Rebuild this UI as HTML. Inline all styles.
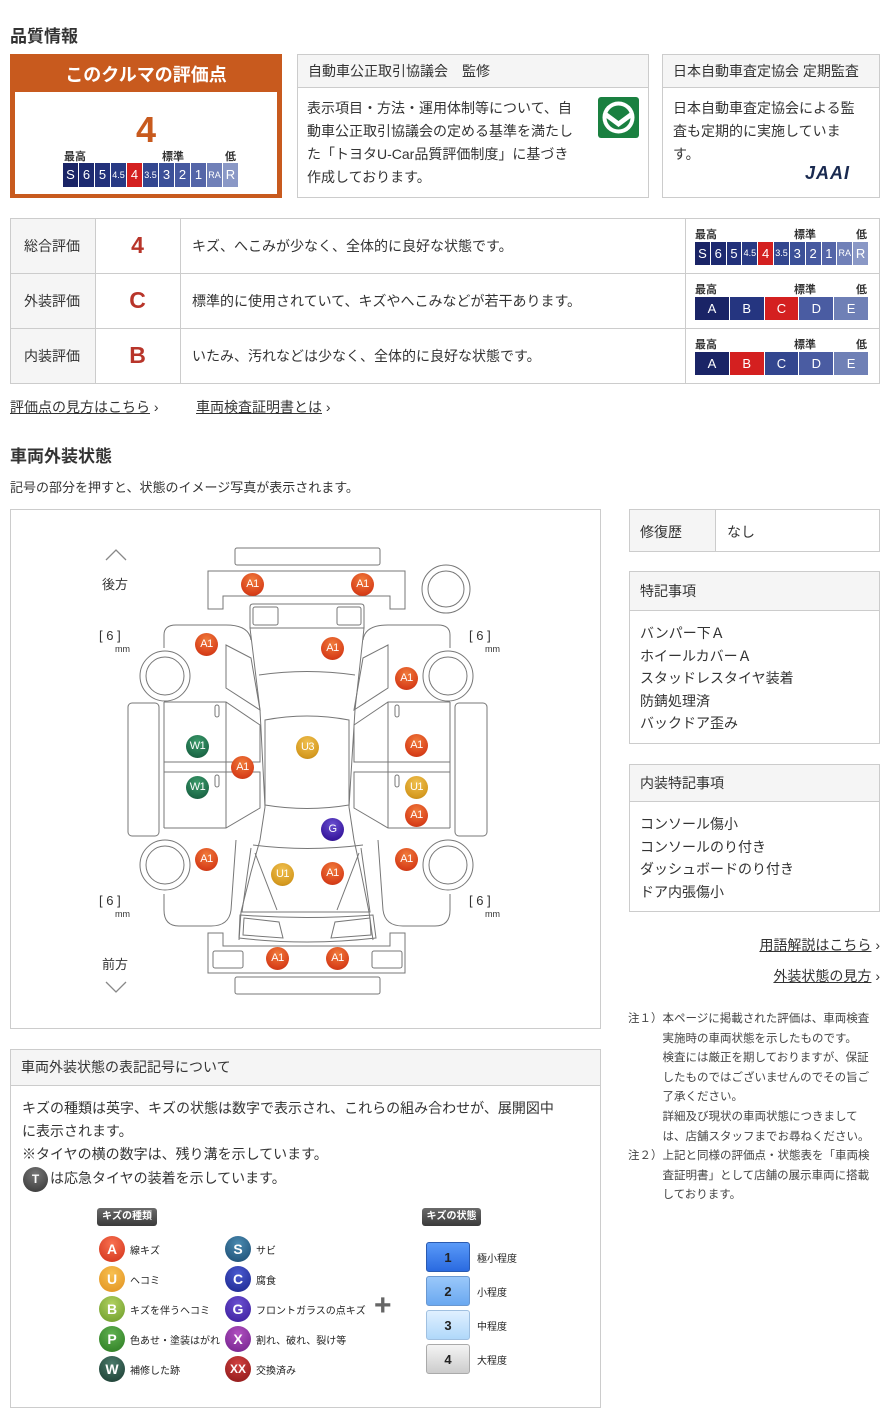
<!DOCTYPE html>
<html><head><meta charset="utf-8">
<style>
*{margin:0;padding:0;box-sizing:border-box}
body{width:890px;height:1425px;background:#fff;font-family:"Liberation Sans","Noto Sans CJK JP",sans-serif;color:#333;position:relative;overflow:hidden}
.a{position:absolute;white-space:nowrap}
.bx{position:absolute;border:1px solid #ccc;background:#fff}
.hd{position:absolute;left:0;right:0;top:0;background:#f5f5f5;border-bottom:1px solid #ccc;font-size:14px;padding-left:10px}
.bar{position:absolute;display:flex;gap:1px}
.bar div{color:#fff;font-size:13px;text-align:center;flex:1}
.lab{position:absolute;font-size:11px;font-weight:bold;color:#333}
.mk{position:absolute;width:23px;height:23px;border-radius:50%;color:#fff;font-size:11px;line-height:23px;text-align:center;margin:-11px 0 0 -11px;letter-spacing:-0.5px}
.A{background:radial-gradient(circle at 50% 30%,#f07a3a,#d8401a 70%,#b83010)}
.W{background:radial-gradient(circle at 50% 30%,#3a9a6a,#1d6a48 70%,#124a32)}
.U{background:radial-gradient(circle at 50% 30%,#f0c050,#d59a20 70%,#b07a10)}
.G{background:radial-gradient(circle at 50% 30%,#6a50d0,#3a1aa0 70%,#28107a)}
.lg{position:absolute;width:26px;height:26px;border-radius:50%;color:#fff;font-weight:bold;font-size:14px;line-height:26px;text-align:center;margin:-13px 0 0 -13px}
.lt{position:absolute;font-size:10px;color:#222;margin-top:-7px}
.sb{position:absolute;left:426px;width:44px;height:30px;border-radius:3px;font-size:13px;font-weight:bold;color:#222;text-align:center;line-height:30px;border:1px solid #999}
u{text-decoration:underline}
</style></head><body>

<div class="a" style="left:10px;top:22px;font-size:17px;font-weight:bold;color:#333">品質情報</div>

<div class="a" style="left:10px;top:54px;width:272px;height:144px;background:#c85a1e"></div>
<div class="a" style="left:10px;top:61px;width:272px;text-align:center;color:#fff;font-size:18px;font-weight:bold">このクルマの評価点</div>
<div class="a" style="left:15px;top:92px;width:262px;height:102px;background:#fff"></div>
<div class="a" style="left:15px;top:110px;width:262px;text-align:center;color:#c85a1e;font-size:36px;font-weight:bold;line-height:40px">4</div>
<div class="lab" style="left:64px;top:148px">最高</div>
<div class="lab" style="left:162px;top:148px">標準</div>
<div class="lab" style="left:225px;top:148px">低</div>
<div class="bar" style="left:63px;top:163px;width:175px;height:24px;line-height:24px">
<div style="background:#1a2466">S</div><div style="background:#1d2a70">6</div><div style="background:#22317a">5</div><div style="background:#283a84;font-size:9px">4.5</div><div style="background:#d42020">4</div><div style="background:#33468f;font-size:9px">3.5</div><div style="background:#3b5098">3</div><div style="background:#4659a0">2</div><div style="background:#5465a8">1</div><div style="background:#7080b8;font-size:9px">RA</div><div style="background:#8a98c6">R</div>
</div>

<div class="bx" style="left:297px;top:54px;width:352px;height:144px">
<div class="hd" style="height:33px;line-height:32px">自動車公正取引協議会　監修</div>
<div class="a" style="left:9px;top:42px;font-size:14px;line-height:23px">表示項目・方法・運用体制等について、自<br>動車公正取引協議会の定める基準を満たし<br>た「トヨタU-Car品質評価制度」に基づき<br>作成しております。</div>
<div class="a" style="left:300px;top:42px;width:41px;height:41px;background:#1a8040;border-radius:3px">
<svg width="41" height="41"><circle cx="20.5" cy="20.5" r="16" fill="#fff"/><circle cx="20.5" cy="20.5" r="12" fill="#1a8040"/><path d="M7 14 L20.5 24 L34 14 L34 20 L20.5 30 L7 20Z" fill="#fff"/></svg></div>
</div>

<div class="bx" style="left:662px;top:54px;width:218px;height:144px">
<div class="hd" style="height:33px;line-height:32px">日本自動車査定協会 定期監査</div>
<div class="a" style="left:10px;top:42px;font-size:14px;line-height:23px">日本自動車査定協会による監<br>査も定期的に実施していま<br>す。</div>
<div class="a" style="left:142px;top:108px;font-size:18px;font-weight:bold;font-style:italic;color:#1a2a50;letter-spacing:1px">JAAI</div>
</div>

<div class="bx" style="left:10px;top:218px;width:870px;height:166px"></div>
<div class="a" style="left:11px;top:219px;width:84px;height:164px;background:#f5f5f5"></div>
<div class="a" style="left:10px;top:273px;width:870px;height:1px;background:#ccc"></div>
<div class="a" style="left:10px;top:328px;width:870px;height:1px;background:#ccc"></div>
<div class="a" style="left:95px;top:218px;width:1px;height:166px;background:#ccc"></div>
<div class="a" style="left:180px;top:218px;width:1px;height:166px;background:#ccc"></div>
<div class="a" style="left:685px;top:218px;width:1px;height:166px;background:#ccc"></div>
<div class="a" style="left:24px;top:236px;font-size:14px">総合評価</div>
<div class="a" style="left:24px;top:291px;font-size:14px">外装評価</div>
<div class="a" style="left:24px;top:346px;font-size:14px">内装評価</div>
<div class="a" style="left:95px;top:232px;width:85px;text-align:center;font-size:23px;font-weight:bold;color:#b8352a">4</div>
<div class="a" style="left:95px;top:287px;width:85px;text-align:center;font-size:23px;font-weight:bold;color:#b8352a">C</div>
<div class="a" style="left:95px;top:342px;width:85px;text-align:center;font-size:23px;font-weight:bold;color:#b8352a">B</div>
<div class="a" style="left:192px;top:236px;font-size:14px">キズ、へこみが少なく、全体的に良好な状態です。</div>
<div class="a" style="left:192px;top:291px;font-size:14px">標準的に使用されていて、キズやへこみなどが若干あります。</div>
<div class="a" style="left:192px;top:346px;font-size:14px">いたみ、汚れなどは少なく、全体的に良好な状態です。</div>

<div class="lab" style="left:695px;top:226px">最高</div><div class="lab" style="left:794px;top:226px">標準</div><div class="lab" style="left:856px;top:226px">低</div>
<div class="bar" style="left:695px;top:242px;width:173px;height:23px;line-height:23px">
<div style="background:#1a2466">S</div><div style="background:#1d2a70">6</div><div style="background:#22317a">5</div><div style="background:#283a84;font-size:9px">4.5</div><div style="background:#d42020">4</div><div style="background:#33468f;font-size:9px">3.5</div><div style="background:#3b5098">3</div><div style="background:#4659a0">2</div><div style="background:#5465a8">1</div><div style="background:#7080b8;font-size:9px">RA</div><div style="background:#8a98c6">R</div>
</div>
<div class="lab" style="left:695px;top:281px">最高</div><div class="lab" style="left:794px;top:281px">標準</div><div class="lab" style="left:856px;top:281px">低</div>
<div class="bar" style="left:695px;top:297px;width:173px;height:23px;line-height:23px">
<div style="background:#1a2466">A</div><div style="background:#253580">B</div><div style="background:#d42020">C</div><div style="background:#4a5ca2">D</div><div style="background:#6f80b6">E</div>
</div>
<div class="lab" style="left:695px;top:336px">最高</div><div class="lab" style="left:794px;top:336px">標準</div><div class="lab" style="left:856px;top:336px">低</div>
<div class="bar" style="left:695px;top:352px;width:173px;height:23px;line-height:23px">
<div style="background:#1a2466">A</div><div style="background:#d42020">B</div><div style="background:#33468f">C</div><div style="background:#4a5ca2">D</div><div style="background:#6f80b6">E</div>
</div>

<div class="a" style="left:10px;top:397px;font-size:14px"><u>評価点の見方はこちら</u> ›</div>
<div class="a" style="left:196px;top:397px;font-size:14px"><u>車両検査証明書とは</u> ›</div>

<div class="a" style="left:10px;top:442px;font-size:17px;font-weight:bold">車両外装状態</div>
<div class="a" style="left:10px;top:477px;font-size:13px">記号の部分を押すと、状態のイメージ写真が表示されます。</div>

<div class="bx" style="left:10px;top:509px;width:591px;height:520px">
<svg class="a" style="left:0;top:0" width="590" height="520" fill="none" stroke="#777" stroke-width="1">
<rect x="224" y="38" width="145" height="17" rx="2"/>
<path d="M197 61 H394 V99 H379 V86 H212 V99 H197Z"/>
<circle cx="435" cy="79" r="24"/><circle cx="435" cy="79" r="18"/>
<path d="M239 118 V97 Q239 94 242 94 H350 Q353 94 353 97 V118"/>
<rect x="242" y="97" width="25" height="18" rx="2"/><rect x="326" y="97" width="24" height="18" rx="2"/>
<path d="M239 118 H353"/>
<path d="M239 118 L249 200 L254 297 L249 330 L240 362 L230 402 L228 430"/>
<path d="M353 118 L344 200 L338 297 L343 330 L350 362 L358 402 L362 430"/>
<path d="M248 165 Q296 158 344 165"/>
<path d="M254 210 Q296 202 338 210 V295 Q296 302 254 295Z"/>
<path d="M242 335 Q296 342 352 335"/>
<path d="M240 338 L231 402 H359 L350 338"/>
<path d="M244 343 L266 400 M348 343 L326 400"/>
<path d="M229 405 Q296 410 362 405 L365 428 Q296 436 228 428Z"/>
<path d="M233 408 L268 412 L272 428 L232 425Z M359 408 L324 412 L320 428 L360 425Z"/>
<path d="M197 423 H212 V436 H379 V423 H394 V463 H197Z"/>
<rect x="202" y="441" width="30" height="17" rx="2"/><rect x="361" y="441" width="30" height="17" rx="2"/>
<rect x="224" y="467" width="145" height="17" rx="2"/>
<path d="M153 138 V125 Q153 115 165 115 H215 Q238 115 240 130"/>
<circle cx="154" cy="166" r="25"/><circle cx="154" cy="166" r="19"/>
<path d="M153 192 V318 M153 192 H215 L249 215 V252 H153 M153 262 H249 V298 L215 318 H153 M215 192 V318"/>
<path d="M215 135 L240 148 L249 200 L215 178Z"/>
<rect x="117" y="193" width="31" height="133" rx="4"/>
<circle cx="154" cy="355" r="25"/><circle cx="154" cy="355" r="19"/>
<path d="M153 384 V400 Q153 416 168 416 H200 Q218 416 220 400 L225 330"/>
<rect x="204" y="195" width="4" height="12" rx="2"/><rect x="204" y="265" width="4" height="12" rx="2"/>
<path d="M439 138 V125 Q439 115 427 115 H377 Q354 115 352 130"/>
<circle cx="437" cy="166" r="25"/><circle cx="437" cy="166" r="19"/>
<path d="M439 192 V318 M439 192 H377 L343 215 V252 H439 M439 262 H343 V298 L377 318 H439 M377 192 V318"/>
<path d="M377 135 L352 148 L343 200 L377 178Z"/>
<rect x="444" y="193" width="32" height="133" rx="4"/>
<circle cx="437" cy="355" r="25"/><circle cx="437" cy="355" r="19"/>
<path d="M439 384 V400 Q439 416 424 416 H392 Q374 416 372 400 L367 330"/>
<rect x="384" y="195" width="4" height="12" rx="2"/><rect x="384" y="265" width="4" height="12" rx="2"/>
<path d="M95 50 L105 40 L115 50 M95 472 L105 482 L115 472" stroke="#888" stroke-width="1.3"/>
</svg>
<div class="a" style="left:91px;top:64px;font-size:13px">後方</div>
<div class="a" style="left:91px;top:444px;font-size:13px">前方</div>
<div class="a" style="left:88px;top:118px;font-size:13px">[ 6 ]</div><div class="a" style="left:104px;top:134px;font-size:9px">mm</div>
<div class="a" style="left:458px;top:118px;font-size:13px">[ 6 ]</div><div class="a" style="left:474px;top:134px;font-size:9px">mm</div>
<div class="a" style="left:88px;top:383px;font-size:13px">[ 6 ]</div><div class="a" style="left:104px;top:399px;font-size:9px">mm</div>
<div class="a" style="left:458px;top:383px;font-size:13px">[ 6 ]</div><div class="a" style="left:474px;top:399px;font-size:9px">mm</div>
<div class="mk A" style="left:241px;top:74px">A1</div>
<div class="mk A" style="left:351px;top:74px">A1</div>
<div class="mk A" style="left:195px;top:134px">A1</div>
<div class="mk A" style="left:321px;top:138px">A1</div>
<div class="mk A" style="left:395px;top:168px">A1</div>
<div class="mk W" style="left:186px;top:236px">W1</div>
<div class="mk U" style="left:296px;top:237px">U3</div>
<div class="mk A" style="left:405px;top:235px">A1</div>
<div class="mk A" style="left:231px;top:257px">A1</div>
<div class="mk W" style="left:186px;top:277px">W1</div>
<div class="mk U" style="left:405px;top:277px">U1</div>
<div class="mk A" style="left:405px;top:305px">A1</div>
<div class="mk G" style="left:321px;top:319px">G</div>
<div class="mk A" style="left:195px;top:349px">A1</div>
<div class="mk A" style="left:395px;top:349px">A1</div>
<div class="mk U" style="left:271px;top:364px">U1</div>
<div class="mk A" style="left:321px;top:363px">A1</div>
<div class="mk A" style="left:266px;top:448px">A1</div>
<div class="mk A" style="left:326px;top:448px">A1</div>
</div>

<div class="bx" style="left:629px;top:509px;width:251px;height:43px"></div>
<div class="a" style="left:630px;top:510px;width:86px;height:41px;background:#f5f5f5;border-right:1px solid #ccc"></div>
<div class="a" style="left:640px;top:522px;font-size:14px">修復歴</div>
<div class="a" style="left:727px;top:522px;font-size:14px">なし</div>

<div class="bx" style="left:629px;top:571px;width:251px;height:173px">
<div class="hd" style="height:39px;line-height:38px">特記事項</div>
<div class="a" style="left:10px;top:50px;font-size:14px;line-height:22.5px">バンパー下Ａ<br>ホイールカバーＡ<br>スタッドレスタイヤ装着<br>防錆処理済<br>バックドア歪み</div>
</div>
<div class="bx" style="left:629px;top:764px;width:251px;height:148px">
<div class="hd" style="height:37px;line-height:36px">内装特記事項</div>
<div class="a" style="left:10px;top:48px;font-size:14px;line-height:22.5px">コンソール傷小<br>コンソールのり付き<br>ダッシュボードのり付き<br>ドア内張傷小</div>
</div>
<div class="a" style="right:10px;top:935px;font-size:14px"><u>用語解説はこちら</u> ›</div>
<div class="a" style="right:10px;top:966px;font-size:14px"><u>外装状態の見方</u> ›</div>

<div class="a" style="left:628px;top:1010px;font-size:11.5px;line-height:19.6px;color:#444">注１）本ページに掲載された評価は、車両検査<br>　　　実施時の車両状態を示したものです。<br>　　　検査には厳正を期しておりますが、保証<br>　　　したものではございませんのでその旨ご<br>　　　了承ください。<br>　　　詳細及び現状の車両状態につきまして<br>　　　は、店舗スタッフまでお尋ねください。<br>注２）上記と同様の評価点・状態表を「車両検<br>　　　査証明書」として店舗の展示車両に搭載<br>　　　しております。</div>

<div class="bx" style="left:10px;top:1049px;width:591px;height:359px">
<div class="hd" style="height:36px;line-height:35px">車両外装状態の表記記号について</div>
<div class="a" style="left:11px;top:47px;font-size:14px;line-height:23px">キズの種類は英字、キズの状態は数字で表示され、これらの組み合わせが、展開図中<br>に表示されます。<br>※タイヤの横の数字は、残り溝を示しています。</div>
<div class="a" style="left:12px;top:117px;width:25px;height:25px;border-radius:50%;background:radial-gradient(circle at 50% 30%,#777,#333);color:#fff;font-size:12px;font-weight:bold;text-align:center;line-height:25px">T</div>
<div class="a" style="left:39px;top:118px;font-size:14px">は応急タイヤの装着を示しています。</div>
</div>
<div class="a" style="left:97px;top:1208px;width:60px;height:18px;border-radius:3px;background:linear-gradient(#6a6a6a,#3a3a3a);color:#fff;font-size:10px;font-weight:bold;text-align:center;line-height:18px">キズの種類</div>
<div class="a" style="left:422px;top:1208px;width:59px;height:18px;border-radius:3px;background:linear-gradient(#6a6a6a,#3a3a3a);color:#fff;font-size:10px;font-weight:bold;text-align:center;line-height:18px">キズの状態</div>
<div class="lg" style="left:112px;top:1249px;background:radial-gradient(circle at 50% 30%,#f87050,#d03018)">A</div><div class="lt" style="left:130px;top:1249px">線キズ</div>
<div class="lg" style="left:112px;top:1279px;background:radial-gradient(circle at 50% 30%,#f8c050,#e09020)">U</div><div class="lt" style="left:130px;top:1279px">ヘコミ</div>
<div class="lg" style="left:112px;top:1309px;background:radial-gradient(circle at 50% 30%,#b0d060,#6a9a28)">B</div><div class="lt" style="left:130px;top:1309px">キズを伴うヘコミ</div>
<div class="lg" style="left:112px;top:1339px;background:radial-gradient(circle at 50% 30%,#60b050,#2a7a20)">P</div><div class="lt" style="left:130px;top:1339px">色あせ・塗装はがれ</div>
<div class="lg" style="left:112px;top:1369px;background:radial-gradient(circle at 50% 30%,#4a7a6a,#1a3a30)">W</div><div class="lt" style="left:130px;top:1369px">補修した跡</div>
<div class="lg" style="left:238px;top:1249px;background:radial-gradient(circle at 50% 30%,#4a8ab0,#1a4a70)">S</div><div class="lt" style="left:256px;top:1249px">サビ</div>
<div class="lg" style="left:238px;top:1279px;background:radial-gradient(circle at 50% 30%,#4a5ad0,#1a248a)">C</div><div class="lt" style="left:256px;top:1279px">腐食</div>
<div class="lg" style="left:238px;top:1309px;background:radial-gradient(circle at 50% 30%,#6a50d0,#3a1a9a)">G</div><div class="lt" style="left:256px;top:1309px">フロントガラスの点キズ</div>
<div class="lg" style="left:238px;top:1339px;background:radial-gradient(circle at 50% 30%,#b050c0,#70208a)">X</div><div class="lt" style="left:256px;top:1339px">割れ、破れ、裂け等</div>
<div class="lg" style="left:238px;top:1369px;background:radial-gradient(circle at 50% 30%,#d04040,#8a1818);font-size:12px">XX</div><div class="lt" style="left:256px;top:1369px">交換済み</div>
<div class="a" style="left:374px;top:1291px;font-size:30px;color:#666;font-weight:bold;line-height:30px">+</div>
<div class="sb" style="top:1242px;background:linear-gradient(#5a9af8,#2a6ae0);border-color:#2a5ab0">1</div><div class="lt" style="left:477px;top:1257px">極小程度</div>
<div class="sb" style="top:1276px;background:linear-gradient(#9ac8fa,#6aa8f0);border-color:#6a98d0">2</div><div class="lt" style="left:477px;top:1291px">小程度</div>
<div class="sb" style="top:1310px;background:linear-gradient(#e0f0ff,#b0d8fa);border-color:#a0c0e0">3</div><div class="lt" style="left:477px;top:1325px">中程度</div>
<div class="sb" style="top:1344px;background:linear-gradient(#f4f4f4,#cccccc);border-color:#aaa">4</div><div class="lt" style="left:477px;top:1359px">大程度</div>
</body></html>
